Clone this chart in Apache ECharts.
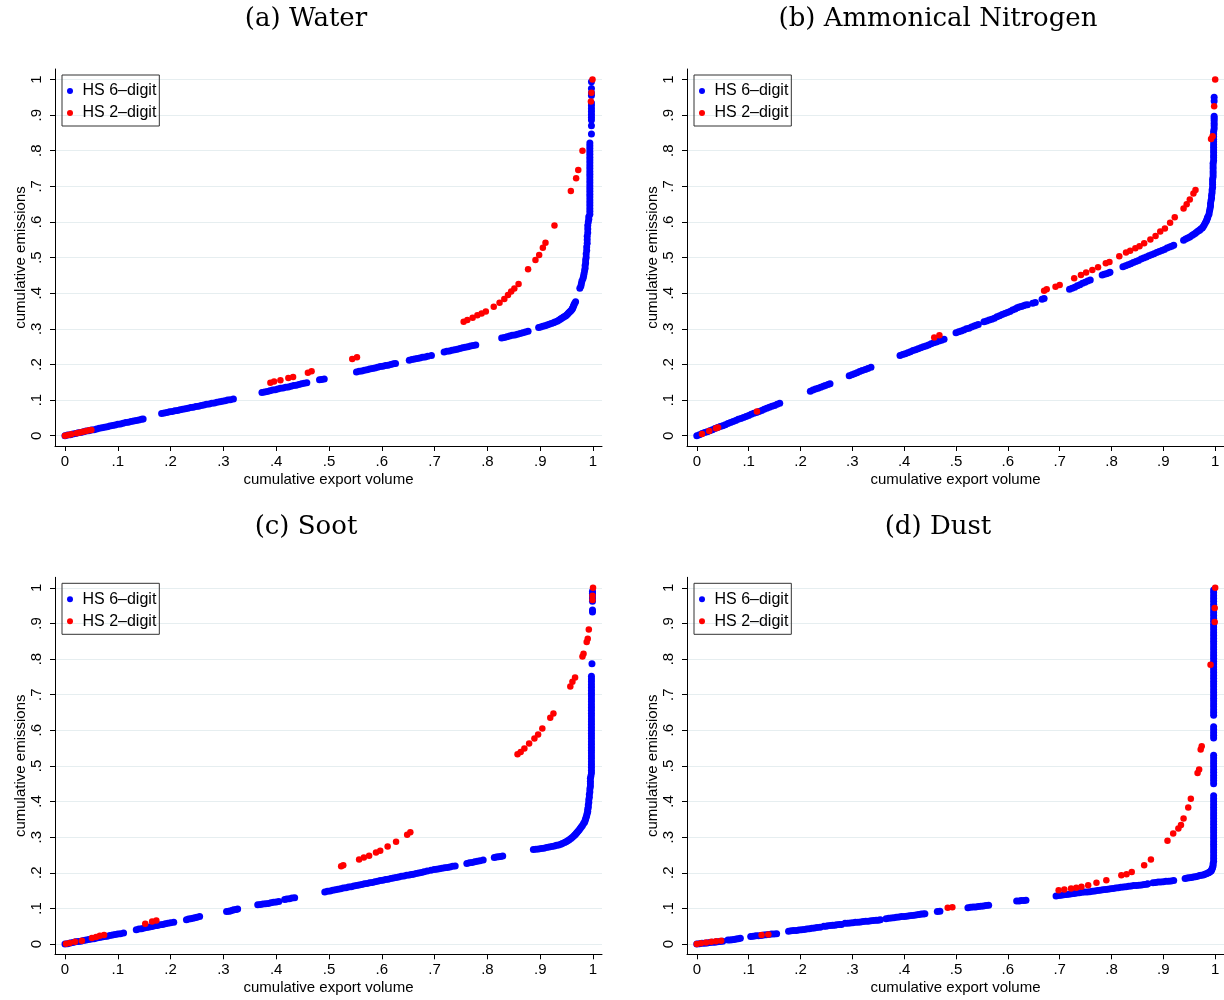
<!DOCTYPE html>
<html>
<head>
<meta charset="utf-8">
<script src="https://cdn.jsdelivr.net/npm/echarts@6/dist/echarts.min.js"></script>
<style>
html,body{margin:0;padding:0;background:#fff;}
#chart{width:1224px;height:1000px;}
</style>
</head>
<body>
<div id="chart"></div>
<script>
// ---------- text / ticks ----------
const PANEL_TITLES = ['(a) Water', '(b) Ammonical Nitrogen', '(c) Soot', '(d) Dust'];
const SERIES_NAMES = ['HS 6\u2013digit', 'HS 2\u2013digit'];
const X_TITLE = 'cumulative export volume';
const Y_TITLE = 'cumulative emissions';
const TICKS = [0, 0.1, 0.2, 0.3, 0.4, 0.5, 0.6, 0.7, 0.8, 0.9, 1];
const TICK_LABELS = ['0', '.1', '.2', '.3', '.4', '.5', '.6', '.7', '.8', '.9', '1'];

// ---------- data: [cumulative export volume, cumulative emissions] ----------
const WATER_HS6 = [
  [0,0],[.005,.002],[.01,.003],[.015,.005],[.02,.006],[.025,.008],[.03,.009],[.035,.011],[.04,.013],[.045,.014],[.05,.016],[.055,.017],[.06,.019],[.065,.021],[.07,.022],[.075,.024],[.08,.025],[.085,.027],[.09,.029],[.095,.030],[.10,.032],[.105,.033],[.11,.035],[.115,.037],[.12,.038],[.125,.040],[.13,.041],[.135,.043],[.14,.044],[.145,.046],[.148,.047],
  [.183,.062],[.188,.064],[.193,.065],[.198,.067],[.203,.068],[.208,.070],[.213,.071],[.218,.073],[.223,.074],[.228,.076],[.233,.077],[.238,.079],[.243,.080],[.248,.082],[.253,.083],[.258,.085],[.263,.086],[.268,.088],[.273,.089],[.278,.091],[.283,.092],[.288,.094],[.293,.095],[.298,.097],[.303,.098],[.308,.100],[.313,.101],[.319,.103],
  [.373,.121],[.378,.123],[.383,.124],[.388,.126],[.393,.128],[.398,.129],[.403,.131],[.408,.133],[.413,.134],[.418,.136],[.423,.137],[.428,.139],[.433,.141],[.438,.142],[.443,.144],[.448,.146],[.453,.147],[.458,.149],
  [.482,.157],[.486,.158],[.491,.159],
  [.552,.179],[.557,.181],[.562,.182],[.567,.184],[.572,.185],[.577,.187],[.582,.189],[.587,.190],[.592,.192],[.597,.194],[.602,.195],[.607,.197],[.612,.198],[.617,.200],[.622,.202],[.626,.203],
  [.652,.212],[.657,.214],[.662,.215],[.667,.217],[.672,.218],[.677,.220],[.682,.221],[.687,.223],[.694,.225],
  [.718,.235],[.723,.237],[.728,.238],[.733,.240],[.738,.241],[.743,.243],[.748,.245],[.753,.247],[.758,.248],[.763,.250],[.768,.252],[.773,.253],[.778,.255],
  [.827,.274],[.832,.276],[.837,.278],[.842,.280],[.847,.282],[.852,.283],[.857,.285],[.862,.287],[.867,.289],[.872,.291],[.877,.293],
  [.897,.304],[.901,.305],[.905,.307],[.909,.309],[.913,.311],[.917,.313],[.921,.315],[.925,.317],[.928,.319],[.932,.321],[.935,.324],[.938,.327],[.940,.329],[.943,.332],[.945,.334],[.948,.336],[.950,.339],[.952,.342],[.954,.345],[.956,.348],[.958,.351],[.960,.354],[.961,.357],[.962,.360],[.963,.364],[.964,.368],[.965,.371],[.967,.376],
  [.975,.414],[.977,.42],[.978,.427],[.979,.434],[.981,.441],[.982,.448],[.983,.455],[.984,.463],[.985,.47],[.985,.478],[.986,.485],[.986,.493],[.987,.5],[.987,.51],[.988,.52],[.988,.53],[.989,.54],[.989,.55],[.989,.56],[.99,.57],[.99,.58],[.99,.59],[.991,.6],[.992,.608],[.992,.615],
  [.994,.622],[.994,.630],[.994,.638],[.994,.646],[.994,.654],[.994,.662],[.994,.670],[.994,.678],[.994,.686],[.994,.694],[.994,.702],[.994,.710],[.994,.718],[.994,.726],[.994,.734],[.994,.742],[.994,.750],[.994,.758],[.994,.766],[.994,.774],[.994,.782],[.994,.790],[.994,.798],[.994,.806],[.994,.814],[.994,.822],
  [.997,.847],[.997,.870],[.997,.886],[.997,.894],[.997,.902],[.997,.910],[.997,.918],[.997,.926],[.997,.934],[.997,.955],[.997,.962],[.997,.975],[.997,.994]
];
const WATER_HS2 = [
  [0,0],[.006,.002],[.012,.004],[.022,.007],[.028,.009],[.034,.011],[.04,.013],[.046,.015],[.05,.016],
  [.389,.149],[.396,.152],[.408,.156],[.423,.162],[.432,.165],[.460,.177],[.467,.181],
  [.544,.215],[.553,.220],
  [.755,.320],[.762,.325],[.772,.331],[.781,.338],[.789,.343],[.797,.349],[.812,.362],[.823,.373],[.832,.384],[.839,.395],[.845,.405],[.851,.413],[.859,.426],
  [.877,.467],[.891,.493],[.898,.507],[.905,.528],[.910,.542],[.927,.59],[.958,.687],[.968,.723],[.972,.746],[.98,.8],[.996,.938],[.997,.963],[.999,1.0]
];

const AMMN_HS6 = [
  [0,0],[.005,.003],[.01,.006],[.015,.009],[.02,.011],[.025,.014],[.03,.017],[.035,.020],[.04,.023],[.045,.026],[.05,.028],[.055,.031],[.06,.034],[.065,.037],[.07,.040],[.075,.043],[.08,.046],[.085,.048],[.09,.051],[.095,.054],[.10,.057],[.105,.060],[.11,.063],[.115,.065],[.12,.068],[.125,.071],[.13,.074],[.135,.077],[.14,.080],[.145,.083],[.15,.085],[.155,.088],[.16,.091],
  [.219,.125],[.224,.128],[.229,.131],[.234,.133],[.239,.136],[.244,.139],[.248,.141],[.253,.144],[.257,.146],
  [.294,.168],[.299,.171],[.304,.174],[.309,.177],[.314,.18],[.319,.183],[.325,.186],[.330,.189],[.336,.192],
  [.392,.225],[.397,.228],[.402,.230],[.407,.233],[.412,.236],[.417,.239],[.422,.241],[.427,.244],[.432,.247],[.437,.250],[.442,.252],[.447,.255],[.452,.258],[.457,.261],[.462,.263],[.467,.266],[.472,.268],[.477,.271],
  [.5,.289],[.505,.292],[.51,.294],[.515,.297],[.52,.300],[.525,.302],[.53,.305],[.535,.308],[.539,.310],[.543,.312],
  [.554,.320],[.559,.322],[.564,.325],[.569,.327],[.574,.330],[.579,.334],[.584,.337],[.589,.340],[.594,.343],[.599,.346],[.604,.349],[.609,.353],[.614,.356],[.618,.359],[.622,.361],[.626,.363],[.630,.365],[.634,.367],[.638,.368],
  [.648,.372],[.653,.374],[.666,.383],[.670,.385],
  [.719,.411],[.724,.414],[.729,.417],[.734,.421],[.739,.424],[.744,.428],[.749,.431],[.754,.434],[.759,.437],
  [.782,.451],[.786,.453],[.79,.455],[.794,.457],[.797,.459],
  [.822,.474],[.827,.477],[.832,.480],[.837,.483],[.842,.486],[.847,.489],[.852,.492],[.857,.496],[.862,.499],[.867,.502],[.872,.505],[.877,.508],[.882,.511],[.887,.514],[.892,.517],[.897,.520],[.902,.523],[.907,.527],[.912,.530],[.916,.532],[.920,.535],
  [.939,.549],[.943,.552],[.947,.555],[.951,.558],[.955,.562],[.958,.565],[.961,.568],[.964,.571],[.967,.575],[.970,.577],[.972,.580],[.975,.583],[.977,.587],[.979,.592],[.981,.598],[.983,.603],[.984,.607],[.985,.611],[.986,.615],[.988,.622],[.989,.630],[.990,.637],[.991,.645],[.991,.652],[.992,.660],[.993,.667],[.993,.675],[.994,.682],[.994,.69],[.995,.697],[.995,.705],[.995,.712],[.995,.72],[.996,.727],[.996,.735],[.996,.742],[.996,.75],[.996,.757],[.996,.765],[.997,.772],[.997,.78],[.997,.787],[.997,.795],[.997,.802],[.997,.81],[.997,.817],[.997,.825],[.997,.832],[.997,.84],[.997,.847],[.997,.855],[.998,.862],[.998,.87],[.998,.877],[.998,.885],[.998,.891],[.998,.897],[.998,.94],[.998,.95]
];
const AMMN_HS2 = [
  [.01,.005],[.024,.013],[.037,.021],[.041,.023],[.116,.068],[.458,.276],[.468,.282],
  [.670,.407],[.675,.411],[.692,.418],[.700,.423],[.728,.442],[.741,.451],[.751,.458],[.763,.465],[.774,.473],[.789,.484],[.796,.488],[.815,.504],[.828,.514],[.836,.519],[.846,.526],[.854,.532],[.863,.540],[.875,.551],[.885,.561],[.894,.573],[.903,.582],[.913,.598],[.922,.613],[.939,.638],[.945,.650],[.951,.663],[.958,.680],[.962,.690],
  [.992,.833],[.995,.841],[.998,.925],[1,1]
];

const SOOT_HS6 = [
  [0,0],[.005,.001],[.01,.003],[.015,.004],[.02,.006],[.025,.007],[.03,.008],[.035,.010],[.04,.011],[.045,.013],[.05,.014],[.055,.015],[.06,.017],[.065,.018],[.07,.020],[.075,.021],[.08,.022],[.085,.024],[.09,.025],[.095,.027],[.10,.028],[.105,.029],[.111,.031],
  [.135,.040],[.140,.042],[.145,.043],[.150,.045],[.155,.046],[.160,.048],[.165,.049],[.170,.051],[.175,.052],[.180,.054],[.185,.055],[.190,.057],[.195,.058],[.200,.060],[.206,.061],
  [.230,.068],[.234,.070],[.238,.071],[.242,.072],[.246,.074],[.250,.075],[.255,.077],
  [.306,.091],[.310,.092],[.313,.093],[.317,.095],[.320,.096],[.324,.097],[.327,.098],
  [.365,.110],[.370,.111],[.375,.112],[.380,.113],[.385,.114],[.390,.116],[.395,.117],[.400,.118],[.405,.119],
  [.416,.125],[.420,.126],[.425,.127],[.430,.129],[.435,.130],
  [.492,.146],[.497,.148],[.502,.149],[.507,.151],[.512,.152],[.517,.154],[.522,.155],[.527,.157],[.532,.158],[.537,.160],[.542,.161],[.547,.163],[.552,.164],[.557,.166],[.562,.167],[.567,.169],[.572,.170],[.577,.172],[.582,.173],[.587,.175],[.592,.176],[.597,.178],[.602,.179],[.607,.181],[.612,.182],[.617,.184],[.622,.185],[.627,.187],[.632,.188],[.637,.190],[.642,.191],[.647,.193],[.652,.194],[.656,.195],[.660,.196],[.665,.198],[.670,.199],[.675,.201],[.680,.203],[.686,.205],[.693,.207],
  [.699,.209],[.704,.210],[.709,.211],[.714,.213],[.719,.214],[.724,.215],[.729,.216],[.734,.218],[.739,.219],
  [.761,.226],[.766,.228],[.771,.229],[.776,.231],[.781,.232],[.786,.234],[.792,.236],
  [.813,.243],[.817,.244],[.821,.245],[.825,.246],[.829,.247],
  [.887,.265],[.892,.266],[.897,.267],[.902,.268],[.907,.269],[.912,.271],[.917,.272],[.922,.274],[.927,.275],[.931,.277],[.935,.278],[.939,.280],[.942,.282],[.946,.285],[.949,.287],[.952,.290],[.955,.293],[.958,.296],[.961,.300],[.964,.304],[.966,.307],[.968,.310],[.970,.314],[.972,.317],[.974,.321],[.976,.325],[.978,.329],[.980,.333],[.982,.338],[.984,.342],[.985,.347],[.986,.351],[.987,.356],[.988,.361],[.989,.367],[.990,.372],[.990,.378],[.991,.384],[.991,.39],[.992,.397],[.992,.405],[.993,.412],[.993,.42],[.994,.427],[.994,.435],[.995,.442],[.995,.45],[.995,.457],[.995,.465],[.996,.472],
  [.997,.48],[.997,.488],[.997,.496],[.997,.504],[.997,.512],[.997,.52],[.997,.528],[.997,.536],[.997,.544],[.997,.552],[.997,.56],[.997,.568],[.997,.576],[.997,.584],[.997,.592],[.997,.60],[.997,.608],[.997,.616],[.997,.624],[.997,.632],[.997,.64],[.997,.648],[.997,.656],[.997,.664],[.997,.672],[.997,.68],[.997,.688],[.997,.696],[.997,.704],[.997,.712],[.997,.72],[.997,.728],[.997,.736],[.997,.744],[.997,.752],
  [.998,.787],[.999,.932],[.999,.938],[.999,.962],[.999,.97],[.999,.978],[.999,.985],[.999,.99]
];
const SOOT_HS2 = [
  [.002,.001],[.009,.003],[.019,.006],[.032,.009],[.051,.017],[.059,.020],[.066,.023],[.074,.025],
  [.152,.057],[.165,.063],[.173,.066],
  [.523,.218],[.527,.221],[.557,.237],[.566,.243],[.576,.248],[.589,.257],[.597,.262],[.611,.274],[.627,.287],[.648,.307],[.654,.314],
  [.857,.533],[.863,.539],[.870,.549],[.879,.563],[.889,.577],[.896,.588],[.904,.605],[.919,.635],[.925,.647],
  [.957,.723],[.961,.736],[.966,.748],[.980,.807],[.982,.815],[.988,.848],[.990,.857],[.992,.883],[.999,.966],[.999,.978],[1,1]
];

const DUST_HS6 = [
  [0,0],[.005,.001],[.01,.002],[.015,.002],[.02,.003],[.025,.004],[.03,.005],[.035,.005],[.04,.006],[.045,.007],[.05,.008],
  [.060,.011],[.064,.011],[.068,.012],[.072,.013],[.076,.014],[.080,.015],[.084,.016],
  [.104,.021],[.109,.022],[.114,.023],[.119,.023],[.124,.024],[.129,.025],[.134,.026],[.139,.027],[.144,.028],[.149,.028],[.154,.029],
  [.177,.036],[.182,.037],[.187,.038],[.192,.038],[.197,.039],[.202,.040],[.207,.041],[.212,.042],[.217,.043],[.222,.044],[.227,.045],[.232,.046],[.238,.047],
  [.245,.050],[.249,.050],[.253,.051],[.258,.052],[.262,.053],[.266,.053],[.270,.054],[.275,.055],[.279,.055],
  [.286,.058],[.291,.058],[.296,.059],[.301,.060],[.306,.061],[.311,.061],[.316,.062],[.321,.063],[.326,.064],[.331,.064],[.336,.065],[.341,.066],[.346,.067],[.350,.067],[.354,.068],
  [.365,.071],[.370,.072],[.375,.073],[.380,.074],[.385,.075],[.390,.076],[.395,.077],[.400,.077],[.405,.078],[.410,.079],[.415,.080],[.420,.081],[.425,.082],[.429,.083],[.433,.084],[.437,.084],[.440,.085],
  [.464,.091],[.469,.092],
  [.523,.102],[.528,.103],[.533,.104],[.538,.104],[.543,.105],[.548,.106],[.553,.107],[.558,.108],[.563,.109],
  [.617,.121],[.622,.121],[.626,.122],[.631,.122],[.635,.123],
  [.693,.135],[.698,.136],[.703,.137],[.708,.138],[.713,.139],[.718,.140],[.723,.141],[.728,.142],[.733,.143],[.738,.144],[.743,.145],[.748,.146],[.753,.146],[.758,.147],[.763,.148],[.768,.149],[.773,.150],[.778,.151],[.783,.152],[.788,.153],[.793,.154],[.798,.155],[.803,.156],[.808,.157],[.813,.158],[.818,.159],[.823,.160],[.828,.161],[.833,.162],[.838,.163],[.843,.164],[.848,.164],[.853,.165],[.858,.166],[.863,.167],[.868,.168],[.870,.169],
  [.880,.172],[.885,.173],[.890,.174],[.895,.174],[.900,.175],[.905,.176],[.910,.176],[.915,.177],[.920,.178],
  [.942,.184],[.946,.185],[.950,.186],[.954,.187],[.958,.188],[.962,.189],[.966,.190],[.970,.192],[.973,.193],[.977,.194],[.980,.196],[.983,.197],[.986,.199],[.988,.201],[.990,.203],[.992,.205],[.993,.208],[.994,.211],[.995,.215],[.996,.22],[.996,.225],
  [.997,.232],[.997,.24],[.997,.248],[.997,.256],[.997,.264],[.997,.272],[.997,.28],[.997,.288],[.997,.296],[.997,.304],[.997,.312],[.997,.32],[.997,.328],[.997,.336],[.997,.344],[.997,.352],[.997,.36],[.997,.368],[.997,.376],[.997,.384],[.997,.392],[.997,.40],[.997,.408],[.997,.416],
  [.997,.45],[.997,.458],[.997,.466],[.997,.474],[.997,.482],[.997,.49],[.997,.498],[.997,.506],[.997,.514],[.997,.522],[.997,.53],
  [.997,.578],[.997,.586],[.997,.594],[.997,.602],[.997,.61],
  [.997,.642],[.997,.65],[.997,.658],[.997,.666],[.997,.674],[.997,.682],[.997,.69],[.997,.698],[.997,.706],[.997,.714],[.997,.722],[.997,.73],[.997,.738],[.997,.746],[.997,.754],[.997,.762],[.997,.77],[.997,.778],[.997,.786],[.997,.794],[.997,.802],[.997,.81],[.997,.818],[.997,.826],[.997,.834],[.997,.842],[.997,.85],[.997,.858],[.997,.866],[.997,.874],[.997,.882],[.997,.89],[.997,.898],[.997,.906],[.997,.914],[.997,.922],[.997,.93],[.997,.938],[.997,.946],[.997,.954],[.997,.962],[.997,.97],[.997,.978],[.997,.986],[.997,.994]
];
const DUST_HS2 = [
  [0,0],[.008,.002],[.018,.004],[.028,.006],[.037,.008],[.047,.009],
  [.125,.025],[.138,.027],[.484,.102],[.493,.103],
  [.698,.151],[.709,.153],[.722,.156],[.732,.158],[.742,.161],[.755,.165],[.771,.172],[.790,.179],[.819,.193],[.829,.196],[.839,.202],[.863,.221],[.876,.237],
  [.908,.290],[.919,.310],[.929,.324],[.934,.334],[.939,.352],[.948,.383],[.953,.408],[.966,.480],[.969,.490],[.972,.546],[.974,.555],
  [.991,.784],[.999,.904],[.999,.943],[1,1]
];

const PANEL_DATA = [
  [WATER_HS6, WATER_HS2],
  [AMMN_HS6, AMMN_HS2],
  [SOOT_HS6, SOOT_HS2],
  [DUST_HS6, DUST_HS2]
];

// ---------- layout & style ----------
const LAYOUT = [
  {left: 55, top: 69, cx: 306, ty: 6},
  {left: 687, top: 69, cx: 938, ty: 6},
  {left: 55, top: 577.3, cx: 306, ty: 514},
  {left: 687, top: 577.3, cx: 938, ty: 514}
];
const GRID_W = 547, GRID_H = 377;
const X_MIN = -0.0189, X_MAX = 1.017, Y_MIN = -0.0289, Y_MAX = 1.0295;
const COLORS = ['#0000ff', '#ff0000'];
const SIZES = [7, 6.5];
const SANS = '"Liberation Sans", Arial, Helvetica, sans-serif';
const GRID_COLOR = '#e6eef0';

function tickLabel(v) {
  for (let i = 0; i < TICKS.length; i++) {
    if (Math.abs(TICKS[i] - v) < 1e-9) return TICK_LABELS[i];
  }
  return '';
}

const option = {
  backgroundColor: '#ffffff',
  animation: false,
  title: LAYOUT.map((p, i) => ({
    text: PANEL_TITLES[i],
    left: p.cx,
    top: p.ty,
    textAlign: 'center',
    padding: 0,
    textStyle: {fontFamily: '"DejaVu Serif", serif', fontSize: 26, fontWeight: 'normal', color: '#000'}
  })),
  legend: LAYOUT.map((p) => ({
    left: p.left + 7,
    top: p.top + 6,
    orient: 'vertical',
    data: SERIES_NAMES,
    icon: 'circle',
    itemWidth: 15,
    itemHeight: 6,
    itemGap: 6,
    padding: [8, 3, 5, 5],
    borderColor: '#333',
    borderWidth: 1,
    selectedMode: false,
    textStyle: {fontFamily: SANS, fontSize: 16, color: '#000'}
  })),
  grid: LAYOUT.map((p) => ({left: p.left, top: p.top, width: GRID_W, height: GRID_H, containLabel: false})),
  xAxis: LAYOUT.map((p, i) => ({
    type: 'value', gridIndex: i, min: X_MIN, max: X_MAX,
    name: X_TITLE, nameLocation: 'middle', nameGap: 26,
    nameTextStyle: {fontFamily: SANS, fontSize: 15, color: '#000'},
    axisLine: {onZero: false, lineStyle: {color: '#000', width: 1}},
    axisTick: {customValues: TICKS, length: 5, lineStyle: {color: '#000', width: 1}},
    axisLabel: {customValues: TICKS, formatter: tickLabel, margin: 8, fontFamily: SANS, fontSize: 15, color: '#000'},
    splitLine: {show: false}
  })),
  yAxis: LAYOUT.map((p, i) => ({
    type: 'value', gridIndex: i, min: Y_MIN, max: Y_MAX,
    name: Y_TITLE, nameLocation: 'middle', nameGap: 27,
    nameTextStyle: {fontFamily: SANS, fontSize: 15, color: '#000'},
    axisLine: {onZero: false, lineStyle: {color: '#000', width: 1}},
    axisTick: {customValues: TICKS, length: 5, lineStyle: {color: '#000', width: 1}},
    axisLabel: {customValues: TICKS, formatter: tickLabel, rotate: 90, margin: 11, fontFamily: SANS, fontSize: 15, color: '#000'},
    splitLine: {show: true, lineStyle: {color: GRID_COLOR, width: 1.2}}
  })),
  series: []
};

PANEL_DATA.forEach((pair, i) => {
  pair.forEach((data, k) => {
    option.series.push({
      type: 'scatter',
      name: SERIES_NAMES[k],
      xAxisIndex: i,
      yAxisIndex: i,
      data: data,
      symbol: 'circle',
      symbolSize: SIZES[k],
      itemStyle: {color: COLORS[k], opacity: 1},
      emphasis: {disabled: true},
      z: 2 + k
    });
  });
});

const chart = echarts.init(document.getElementById('chart'), null, {renderer: 'canvas'});
chart.setOption(option);
</script>
</body>
</html>
